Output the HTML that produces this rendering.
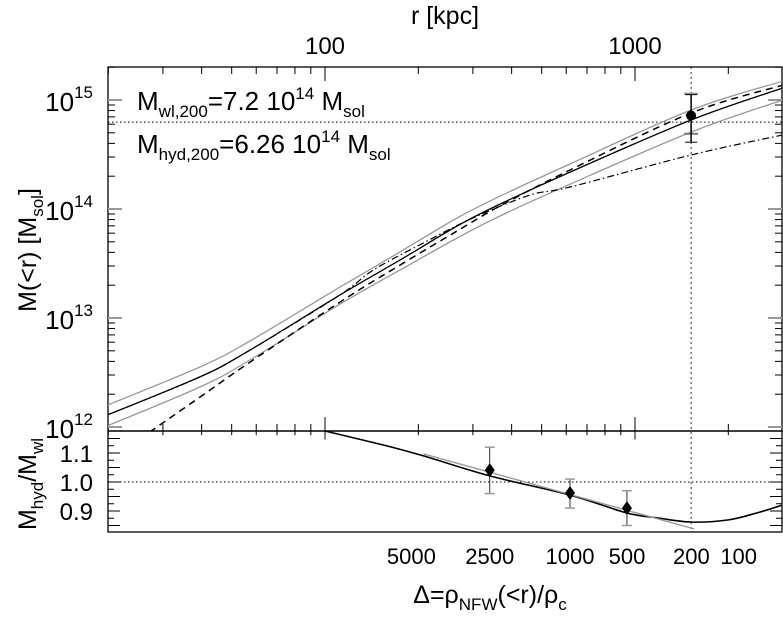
<!DOCTYPE html>
<html><head><meta charset="utf-8"><style>
html,body{margin:0;padding:0;background:#fff;}
svg{display:block;font-family:"Liberation Sans",sans-serif;}
</style></head><body>
<svg id="chart" width="783" height="617" viewBox="0 0 783 617" xmlns="http://www.w3.org/2000/svg">
<rect width="783" height="617" fill="#fff"/>
<g id="axes"></g>
<g id="series"></g>
<g id="labels" fill="#000">
<text x="445" y="24" font-size="25" text-anchor="middle">r [kpc]</text>
<text x="137" y="110" font-size="26">M<tspan font-size="17" dy="7">wl,200</tspan><tspan dy="-7">=7.2 10</tspan><tspan font-size="17" dy="-11">14</tspan><tspan dy="11"> M</tspan><tspan font-size="17" dy="7">sol</tspan></text>
<text x="137" y="153" font-size="26">M<tspan font-size="17" dy="7">hyd,200</tspan><tspan dy="-7">=6.26 10</tspan><tspan font-size="17" dy="-11">14</tspan><tspan dy="11"> M</tspan><tspan font-size="17" dy="7">sol</tspan></text>
<text transform="translate(36,250) rotate(-90)" font-size="25" text-anchor="middle">M(&lt;r) [M<tspan font-size="17" dy="7">sol</tspan><tspan dy="-7">]</tspan></text>
<text transform="translate(36,484) rotate(-90)" font-size="25" text-anchor="middle">M<tspan font-size="17" dy="7">hyd</tspan><tspan dy="-7">/M</tspan><tspan font-size="17" dy="7">wl</tspan></text>
<text x="490" y="603" font-size="25" text-anchor="middle">Δ=ρ<tspan font-size="17" dy="7">NFW</tspan><tspan dy="-7">(&lt;r)/ρ</tspan><tspan font-size="17" dy="7">c</tspan></text>
</g>
</svg>
<script>
// ---- data ----
const rTicksMajor = [100, 1000];
const yTickExps = [12, 13, 14, 15];
const ratioTicks = [0.9, 1.0, 1.1];
const deltaLabels = ["5000","2500","1000","500","200","100"];
const deltaLabelR = [190, 340, 617, 942, 1520, 2160];

const rGrid = [18.8, 39.5, 57.3, 111.8, 174.6, 266.7, 367, 617, 1517, 3000];
const mWl = [1.21e12, 2.88e12, 5.08e12, 1.63e13, 3.40e13, 6.98e13, 1.11e14, 2.18e14, 6.56e14, 1.29e15];
const mHi = [1.49e12, 3.55e12, 6.15e12, 1.92e13, 4.04e13, 8.26e13, 1.31e14, 2.59e14, 8.09e14, 1.49e15];
const mLo = [9.6e11, 2.33e12, 4.12e12, 1.34e13, 2.75e13, 5.42e13, 8.63e13, 1.69e14, 5.08e14, 1.0e15];
const rHyd = [27.2, 39.5, 57.3, 111.8, 174.6, 266.7, 367, 617, 1517, 3000];
const mHyd = [9.0e11, 1.88e12, 3.94e12, 1.40e13, 3.06e13, 6.28e13, 1.067e14, 2.28e14, 7.60e14, 1.37e15];
const rHse = [18.8, 39.5, 57.3, 111.8, 143, 202, 300, 458, 617, 1517, 3000];
const mHse = [1.21e12, 2.88e12, 5.08e12, 1.63e13, 2.75e13, 4.68e13, 8.26e13, 1.34e14, 1.59e14, 3.13e14, 4.78e14];
const mPoint = 7.2e14, rPoint = 1517, mPointLo = 4.1e14, mPointHi = 1.12e15, mPointGrayLo = 4.9e14;
const mHydLine = 6.26e14;

const rRatio = [100, 159, 208, 340, 617, 942, 1190, 1517, 1990, 2470, 3000];
const ratioBlack = [1.176, 1.124, 1.09, 1.021, 0.955, 0.893, 0.876, 0.862, 0.869, 0.893, 0.921];
const rRatioGray = [208, 1555];
const ratioGray = [1.097, 0.838];
const rPts = [340, 617, 942];
const ratioPts = [1.041, 0.962, 0.91];
const ratioErrLo = [0.96, 0.91, 0.85];
const ratioErrHi = [1.12, 1.01, 0.97];

// ---- scales ----
const L=108, R=782, T=67, B1=431, B2=532;
const X = r => 325 + (Math.log10(r)-2)*310;
const Y = m => 100 + (15-Math.log10(m))*109;
const YR = v => 482 - (v-1)*290;
const NS="http://www.w3.org/2000/svg";
function mk(tag, attrs, parent){const e=document.createElementNS(NS,tag);for(const k in attrs)e.setAttribute(k,attrs[k]);parent.appendChild(e);return e;}
const axes=document.getElementById('axes'), series=document.getElementById('series'), labels=document.getElementById('labels');

let f1=mk('rect',{x:L,y:T,width:R-L,height:B1-T,fill:'none',stroke:'#000','stroke-width':1.3},axes);


let f2=mk('rect',{x:L,y:B1,width:R-L,height:B2-B1,fill:'none',stroke:'#000','stroke-width':1.3},axes);



for(let d=10; d<=1000; d*=10){
  for(let k=1;k<10;k++){
    const r=d*k; const x=X(r); if(x<L||x>R) continue;
    const len = k===1?14:7;
    mk('line',{x1:x,y1:T,x2:x,y2:T+len,stroke:'#000'},axes);
    mk('line',{x1:x,y1:B1,x2:x,y2:B1-len,stroke:'#000'},axes);
    mk('line',{x1:x,y1:B1,x2:x,y2:B1+len*0.6,stroke:'#000'},axes);
  }
}
rTicksMajor.forEach(r=>{
  const t=mk('text',{x:X(r),y:54,'font-size':24,'text-anchor':'middle'},labels);
  t.textContent=r;
  
  
});
for(let e=11;e<=15;e++){
  for(let k=1;k<10;k++){
    const m=k*Math.pow(10,e); const y=Y(m); if(y<T||y>B1) continue;
    const len=k===1?14:7;
    mk('line',{x1:L,y1:y,x2:L+len,y2:y,stroke:k===1?'#999':'#000','stroke-width':k===1?2:1},axes);
    mk('line',{x1:R,y1:y,x2:R-len,y2:y,stroke:k===1?'#999':'#000','stroke-width':k===1?2:1},axes);
  }
}
yTickExps.forEach(e=>{
  const t=mk('text',{x:93,y:Y(Math.pow(10,e))+11,'font-size':26,'text-anchor':'end'},labels);
  t.innerHTML='10<tspan font-size="17" dy="-13">'+e+'</tspan>';
  
  
});
for(let v=0.85; v<=1.17; v+=0.025){
  const y=YR(v); const major=Math.abs(v*20-Math.round(v*20))<1e-6;
  const len=major?12:6;
  mk('line',{x1:L,y1:y,x2:L+len,y2:y,stroke:'#000'},axes);
  mk('line',{x1:R,y1:y,x2:R-len,y2:y,stroke:'#000'},axes);
}
ratioTicks.forEach(v=>{
  const t=mk('text',{x:93,y:YR(v)+9,'font-size':24,'text-anchor':'end'},labels);
  t.textContent=v.toFixed(1);
  
  
});
deltaLabels.forEach((s,i)=>{
  const t=mk('text',{x:X(deltaLabelR[i]),y:564,'font-size':22,'text-anchor':'middle'},labels);
  t.textContent=s;
  
  
});

let hl=mk('line',{x1:L,y1:Y(mHydLine),x2:R,y2:Y(mHydLine),stroke:'#000','stroke-dasharray':'1.5,2.5'},series);


let vl=mk('line',{x1:X(rPoint),y1:T,x2:X(rPoint),y2:B2,stroke:'#000','stroke-width':0.8,'stroke-dasharray':'2,3'},series);


let ul=mk('line',{x1:L,y1:YR(1),x2:R,y2:YR(1),stroke:'#000','stroke-dasharray':'1.5,2.5'},series);



function path(rs, vs, fy, attrs, name){
  const pts=rs.map((r,i)=>[X(r),fy(vs[i])]);
  let d='M'+pts[0][0].toFixed(1)+','+pts[0][1].toFixed(1);
  for(let i=0;i<pts.length-1;i++){
    const p0=pts[Math.max(0,i-1)],p1=pts[i],p2=pts[i+1],p3=pts[Math.min(pts.length-1,i+2)];
    const c1=[p1[0]+(p2[0]-p0[0])/6,p1[1]+(p2[1]-p0[1])/6];
    const c2=[p2[0]-(p3[0]-p1[0])/6,p2[1]-(p3[1]-p1[1])/6];
    d+=` C${c1[0].toFixed(1)},${c1[1].toFixed(1)} ${c2[0].toFixed(1)},${c2[1].toFixed(1)} ${p2[0].toFixed(1)},${p2[1].toFixed(1)}`;
  }
  const p=mk('path',Object.assign({d:d,fill:'none'},attrs),series);
  
  
}
const clip=mk('clipPath',{id:'c1'},series); mk('rect',{x:L,y:T,width:R-L,height:B1-T},clip);
const clip2=mk('clipPath',{id:'c2'},series); mk('rect',{x:L,y:B1,width:R-L,height:B2-B1},clip2);
path(rGrid,mHi,Y,{stroke:'#999','stroke-width':1.3,'clip-path':'url(#c1)'},'wl-upper-bound');
path(rGrid,mLo,Y,{stroke:'#999','stroke-width':1.3,'clip-path':'url(#c1)'},'wl-lower-bound');
path(rGrid,mWl,Y,{stroke:'#000','stroke-width':1.3,'clip-path':'url(#c1)'},'wl-mass-profile');
path(rHyd,mHyd,Y,{stroke:'#000','stroke-width':1.5,'stroke-dasharray':'7,5','clip-path':'url(#c1)'},'hyd-nfw-profile');
path(rHse,mHse,Y,{stroke:'#000','stroke-width':1.2,'stroke-dasharray':'7,3,1.5,3','clip-path':'url(#c1)'},'hse-mass-profile');
path(rRatio,ratioBlack,YR,{stroke:'#000','stroke-width':1.6,'clip-path':'url(#c2)'},'ratio-curve');
path(rRatioGray,ratioGray,YR,{stroke:'#999','stroke-width':1.4,'clip-path':'url(#c2)'},'ratio-fit-line');

const px=X(rPoint);
mk('line',{x1:px-7,y1:Y(mPointHi)-1,x2:px+7,y2:Y(mPointHi)-1,stroke:'#999','stroke-width':2},series);
mk('line',{x1:px-7,y1:Y(mPointGrayLo),x2:px+7,y2:Y(mPointGrayLo),stroke:'#777','stroke-width':2},series);
mk('line',{x1:px,y1:Y(mPointHi),x2:px,y2:Y(mPointLo),stroke:'#000','stroke-width':1.5},series);
mk('line',{x1:px-6,y1:Y(mPointHi),x2:px+6,y2:Y(mPointHi),stroke:'#000'},series);
mk('line',{x1:px-6,y1:Y(mPointLo),x2:px+6,y2:Y(mPointLo),stroke:'#000'},series);
let dp=mk('circle',{cx:px,cy:Y(mPoint),r:5,fill:'#000'},series);



rPts.forEach((r,i)=>{
  const x=X(r), y=YR(ratioPts[i]);
  mk('line',{x1:x,y1:YR(ratioErrHi[i]),x2:x,y2:YR(ratioErrLo[i]),stroke:'#000','stroke-width':0.8},series);
  mk('line',{x1:x-5,y1:YR(ratioErrHi[i]),x2:x+5,y2:YR(ratioErrHi[i]),stroke:'#999','stroke-width':1.5},series);
  mk('line',{x1:x-5,y1:YR(ratioErrLo[i]),x2:x+5,y2:YR(ratioErrLo[i]),stroke:'#999','stroke-width':1.5},series);
  const d=mk('path',{d:`M${x},${y-7} L${x+5},${y} L${x},${y+7} L${x-5},${y} Z`,fill:'#000'},series);
  
  
});
</script>
</body></html>
